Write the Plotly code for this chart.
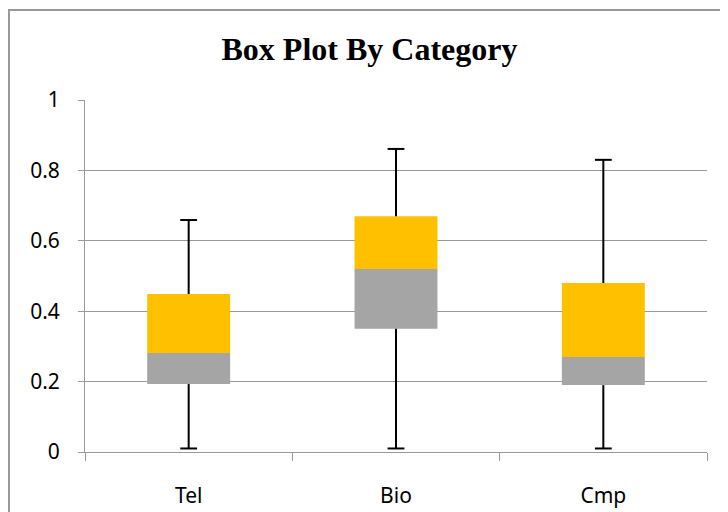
import plotly.graph_objects as go

categories = ["Tel", "Bio", "Cmp"]
mins = [0.01, 0.01, 0.01]
q1 = [0.193, 0.35, 0.19]
medians = [0.281, 0.52, 0.27]
q3 = [0.449, 0.67, 0.48]
maxs = [0.659, 0.861, 0.83]
y_ticks = [0, 0.2, 0.4, 0.6, 0.8, 1]
y_tick_labels = ["0", "0.2", "0.4", "0.6", "0.8", "1"]

fig = go.Figure()

# lower box (Q1 -> median)
fig.add_trace(go.Bar(
    x=categories, y=[m - a for m, a in zip(medians, q1)], base=q1,
    marker=dict(color="#A5A5A5", line=dict(width=0)), width=0.4,
    showlegend=False, hoverinfo="skip"))
# upper box (median -> Q3)
fig.add_trace(go.Bar(
    x=categories, y=[b - m for b, m in zip(q3, medians)], base=medians,
    marker=dict(color="#FFC000", line=dict(width=0)), width=0.4,
    showlegend=False, hoverinfo="skip"))

# whisker lines
wx, wy = [], []
for c, lo, a, b, hi in zip(categories, mins, q1, q3, maxs):
    wx += [c, c, None, c, c, None]
    wy += [lo, a, None, b, hi, None]
fig.add_trace(go.Scatter(x=wx, y=wy, mode="lines",
                         line=dict(color="black", width=2),
                         showlegend=False, hoverinfo="skip"))
# whisker caps
fig.add_trace(go.Scatter(
    x=categories + categories, y=mins + maxs, mode="markers",
    marker=dict(symbol="line-ew", size=12, line=dict(color="black", width=2)),
    showlegend=False, hoverinfo="skip"))

fig.update_layout(
    width=728, height=512,
    margin=dict(l=77, r=29, t=92, b=68),
    paper_bgcolor="white", plot_bgcolor="white",
    barmode="overlay",
    title=dict(text="<b>Box Plot By Category</b>", x=361.5 / 728, xanchor="center",
               y=1 - 41 / 512, yanchor="middle",
               font=dict(family="Liberation Serif", size=32, color="black")),
    xaxis=dict(type="category", tickson="boundaries", ticks="outside",
               ticklen=8, tickcolor="#999999", showline=True,
               linecolor="#999999", linewidth=1, showgrid=False,
               tickfont=dict(family="Noto Sans", size=21, color="black"),
               ticklabelstandoff=25),
    yaxis=dict(range=[0, 1], tickvals=y_ticks, ticktext=y_tick_labels,
               ticks="outside", ticklen=6, tickcolor="#999999",
               showline=True, linecolor="#999999", linewidth=1,
               showgrid=True, gridcolor="#999999", gridwidth=1,
               zeroline=False,
               tickfont=dict(family="Noto Sans", size=21, color="black"),
               ticklabelstandoff=14),
    shapes=[dict(type="rect", xref="paper", yref="paper",
                 x0=(9 - 85) / 622, x1=(760 - 85) / 622,
                 y0=(452 - 560) / 352, y1=(452 - 10) / 352,
                 line=dict(color="#999999", width=2), layer="below")],
)

fig.write_html("out.html")
